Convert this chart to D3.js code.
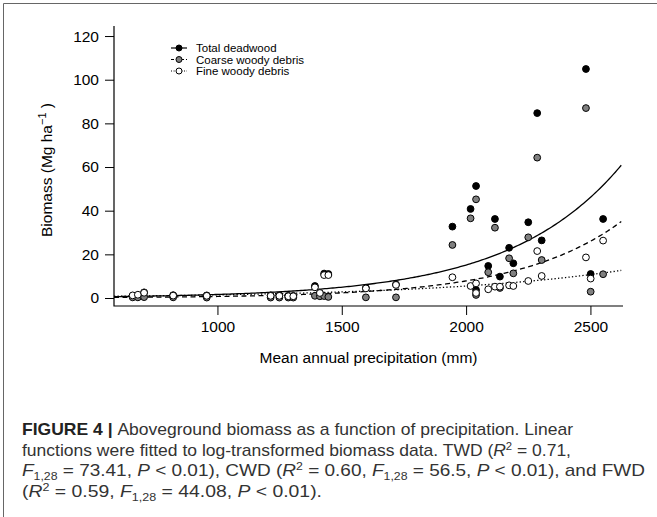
<!DOCTYPE html>
<html>
<head>
<meta charset="utf-8">
<script src="https://cdnjs.cloudflare.com/ajax/libs/d3/7.8.5/d3.min.js"></script>
<style>
  body { margin: 0; background: #fff; }
  svg text { font-family: "Liberation Sans", Arial, Helvetica, sans-serif; }
</style>
</head>
<body>
<div id="chart"></div>
<script>
// site values (30 sites)
var precip = [659, 680, 705, 822, 957, 1214, 1249, 1285, 1305, 1392, 1412, 1429, 1446, 1597, 1718,
              1945, 2018, 2040, 2040, 2089, 2116, 2136, 2173, 2190, 2250, 2286, 2304, 2482, 2501, 2551];
var twd = [1.0, 1.2, 2.6, 1.3, 1.2, 1.2, 1.2, 1.0, 1.0, 5.5, 2.3, 11.2, 11.0, 4.6, 6.2,
           32.7, 40.8, 51.3, 3.7, 14.7, 36.2, 9.8, 23.0, 15.9, 34.7, 84.7, 26.4, 104.9, 11.0, 36.2];
var cwd = [0.3, 0.3, 0.4, 0.3, 0.2, 0.2, 0.2, 0.2, 0.2, 1.0, 0.8, 0.9, 0.5, 0.3, 0.3,
           24.3, 36.5, 45.2, 1.4, 11.8, 32.2, 4.6, 18.2, 11.3, 27.8, 64.3, 17.4, 87.0, 2.9, 10.9];
var fwd = [1.2, 1.5, 2.4, 1.1, 1.0, 1.0, 1.0, 0.8, 0.8, 4.9, 2.3, 10.5, 10.5, 4.4, 6.0,
           9.5, 5.5, 6.7, 2.3, 4.0, 5.2, 5.2, 5.8, 5.5, 7.8, 21.5, 10.1, 18.6, 8.9, 26.3];

// fitted log-linear models: biomass = exp(a + b * precip)
var fitTWD = [-1.744, 0.00223];
var fitCWD = [-2.742, 0.0024];
var fitFWD = [-0.978, 0.00134];

var xTicks = [1000, 1500, 2000, 2500];
var yTicks = [0, 20, 40, 60, 80, 100, 120];
var seriesNames = ["Total deadwood", "Coarse woody debris", "Fine woody debris"];

var width = 657, height = 517;
var margin = {top: 26, right: 34, bottom: 211, left: 114};
var plotW = width - margin.left - margin.right;
var plotH = height - margin.top - margin.bottom;

var svg = d3.select("#chart").append("svg")
    .attr("width", width)
    .attr("height", height);

// figure frame
svg.append("path")
    .attr("d", "M3.5,517 V3.5 H657")
    .attr("fill", "none")
    .attr("stroke", "#666")
    .attr("stroke-width", 1);

var g = svg.append("g")
    .attr("transform", "translate(" + margin.left + "," + margin.top + ")");

var x = d3.scaleLinear().domain([584, 2631]).range([0, plotW]);
var y = d3.scaleLinear().domain([-3.66, 124.6]).range([plotH, 0]);

var yAxis = d3.axisLeft(y).tickValues(yTicks).tickSize(9).tickSizeOuter(0).tickPadding(6);
var xAxis = d3.axisBottom(x).tickValues(xTicks).tickSize(9).tickSizeOuter(0).tickPadding(6)
    .tickFormat(d3.format("d"));

var gy = g.append("g").call(yAxis);
gy.select(".domain").remove();
gy.selectAll("text").attr("font-size", 15.5).attr("fill", "#000")
    .attr("font-family", "Liberation Sans, Arial, sans-serif");
gy.selectAll("line").attr("stroke", "#000");

var gx = g.append("g").attr("transform", "translate(0," + plotH + ")").call(xAxis);
gx.select(".domain").remove();
gx.selectAll("text").attr("font-size", 15.5).attr("fill", "#000")
    .attr("font-family", "Liberation Sans, Arial, sans-serif");
gx.selectAll("line").attr("stroke", "#000");

// L shaped box
g.append("path")
    .attr("d", "M0,0 V" + plotH + " H" + plotW)
    .attr("fill", "none")
    .attr("stroke", "#000")
    .attr("stroke-width", 1.2);

// fitted curves
var curveXs = d3.range(584, 2632, 8);
var line = d3.line().x(function(d) { return x(d[0]); }).y(function(d) { return y(d[1]); });
function curvePts(fit) {
    return curveXs.map(function(p) { return [p, Math.exp(fit[0] + fit[1] * p)]; });
}
var styles = [
    {fit: fitTWD, dash: null, fill: "#000"},
    {fit: fitCWD, dash: "5,3.5", fill: "#808080"},
    {fit: fitFWD, dash: "1.3,2.2", fill: "#fff"}
];
styles.forEach(function(s) {
    g.append("path")
        .datum(curvePts(s.fit))
        .attr("d", line)
        .attr("fill", "none")
        .attr("stroke", "#000")
        .attr("stroke-width", 1.3)
        .attr("stroke-dasharray", s.dash);
});

// points
var seriesVals = [twd, cwd, fwd];
seriesVals.forEach(function(vals, i) {
    g.append("g").selectAll("circle")
        .data(vals)
        .enter()
        .append("circle")
        .attr("cx", function(d, j) { return x(precip[j]); })
        .attr("cy", function(d) { return y(d); })
        .attr("r", 3.4)
        .attr("fill", styles[i].fill)
        .attr("stroke", "#000")
        .attr("stroke-width", 1);
});

// legend
var legend = g.append("g").attr("transform", "translate(57,22)");
seriesNames.forEach(function(name, i) {
    var row = legend.append("g").attr("transform", "translate(0," + (i * 11.5) + ")");
    row.append("line")
        .attr("x1", 0).attr("x2", 16)
        .attr("stroke", "#000").attr("stroke-width", 1.2)
        .attr("stroke-dasharray", i == 0 ? null : (i == 1 ? "3,2" : "1,1.6"));
    row.append("circle")
        .attr("cx", 8).attr("r", 3)
        .attr("fill", styles[i].fill)
        .attr("stroke", "#000");
    row.append("text")
        .attr("x", 25).attr("y", 4)
        .attr("font-size", 11.5)
        .text(name);
});

// axis titles
g.append("text")
    .attr("x", plotW / 2)
    .attr("y", plotH + 57)
    .attr("text-anchor", "middle")
    .attr("font-size", 15.5)
    .text("Mean annual precipitation (mm)");

var yt = g.append("text")
    .attr("transform", "translate(-62," + (plotH / 2 + 4) + ") rotate(-90)")
    .attr("text-anchor", "middle")
    .attr("font-size", 15.5);
yt.append("tspan").text("Biomass (Mg  ha");
yt.append("tspan").attr("font-size", 11).attr("baseline-shift", "6px").text("\u22121");
yt.append("tspan").text("  )");

// caption
var cap = svg.append("g").attr("fill", "#333").attr("font-size", 17);
function capLine(yPos, len) {
    return cap.append("text").attr("x", 22).attr("y", yPos)
        .attr("textLength", len).attr("lengthAdjust", "spacingAndGlyphs");
}
function sup(t, s) { t.append("tspan").attr("font-size", 11).attr("baseline-shift", "6px").text(s); }
function sub(t, s) { t.append("tspan").attr("font-size", 11).attr("baseline-shift", "-4px").text(s); }
function it(t, s) { t.append("tspan").attr("font-style", "italic").text(s); }
function tx(t, s) { t.append("tspan").text(s); }

var l1 = capLine(435, 551);
l1.append("tspan").attr("font-weight", "bold").attr("fill", "#222").text("FIGURE 4 | ");
tx(l1, "Aboveground biomass as a function of precipitation. Linear");

var l2 = capLine(455.5, 549);
tx(l2, "functions were fitted to log-transformed biomass data. TWD (");
it(l2, "R"); sup(l2, "2"); tx(l2, " = 0.71,");

var l3 = capLine(476, 623);
it(l3, "F"); sub(l3, "1,28"); tx(l3, " = 73.41, "); it(l3, "P"); tx(l3, " < 0.01), CWD (");
it(l3, "R"); sup(l3, "2"); tx(l3, " = 0.60, ");
it(l3, "F"); sub(l3, "1,28"); tx(l3, " = 56.5, "); it(l3, "P"); tx(l3, " < 0.01), and FWD");

var l4 = capLine(496.5, 300);
tx(l4, "("); it(l4, "R"); sup(l4, "2"); tx(l4, " = 0.59, ");
it(l4, "F"); sub(l4, "1,28"); tx(l4, " = 44.08, "); it(l4, "P"); tx(l4, " < 0.01).");
</script>
</body>
</html>
